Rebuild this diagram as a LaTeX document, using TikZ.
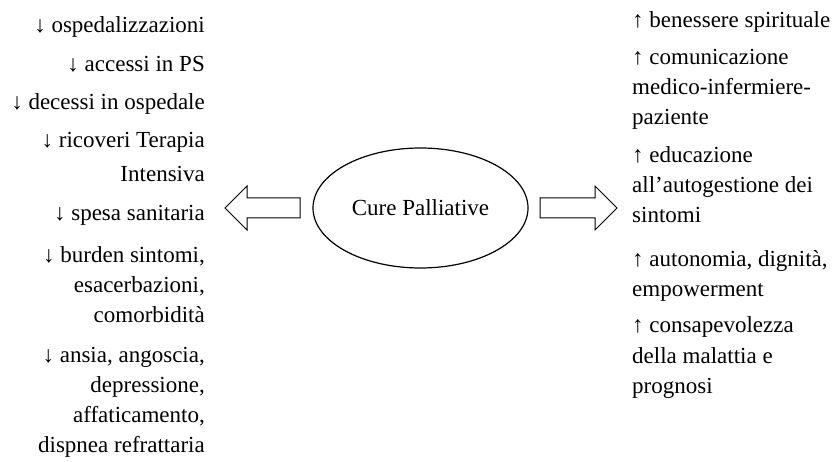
\documentclass[tikz,border=0pt]{standalone}
\usepackage{fontspec}
\setmainfont{Liberation Serif}
\usetikzlibrary{shapes.geometric}
\tikzset{
  txt/.style={inner sep=0pt, font=\fontsize{23}{30}\selectfont},
  lt/.style={txt, anchor=base east},
  rt/.style={txt, anchor=base west},
  blockarrow/.style={draw, line width=1pt, fill=white, line join=miter},
}
\begin{document}
\begin{tikzpicture}[x=1pt,y=-1pt]
\useasboundingbox (0,0) rectangle (838,462);
\node[draw, ellipse, line width=1.2pt, minimum width=215pt, minimum height=120pt, inner sep=0pt,
  font=\fontsize{23}{30}\selectfont] (cp) at (420.5,208) {Cure Palliative};
% left column
\foreach \y/\t [count=\i] in {
  33/{↓ ospedalizzazioni},
  72/{↓ accessi in PS},
  110/{↓ decessi in ospedale},
  148/{↓ ricoveri Terapia},
  182/{Intensiva},
  221/{↓ spesa sanitaria},
  263/{↓ burden sintomi,},
  293/{esacerbazioni,},
  323/{comorbidità},
  362/{↓ ansia, angoscia,},
  392/{depressione,},
  422/{affaticamento,},
  452/{dispnea refrattaria}}
  \node[lt] (L\i) at (205,\y) {\t};
% right column
\foreach \y/\t [count=\i] in {
  28/{↑ benessere spirituale},
  65/{↑ comunicazione},
  95/{medico-infermiere-},
  125/{paziente},
  163/{↑ educazione},
  193/{all’autogestione dei},
  223/{sintomi},
  267/{↑ autonomia, dignità,},
  297/{empowerment},
  333/{↑ consapevolezza},
  363/{della malattia e},
  393/{prognosi}}
  \node[rt] (R\i) at (632,\y) {\t};
% block arrows
\draw[blockarrow] (300,198) -- (247,198) -- (247,186) -- (225,208) -- (247,230) -- (247,218) -- (300,218) -- cycle;
\draw[blockarrow] (540,198) -- (595,198) -- (595,186) -- (617,208) -- (595,230) -- (595,218) -- (540,218) -- cycle;
\end{tikzpicture}
\end{document}
